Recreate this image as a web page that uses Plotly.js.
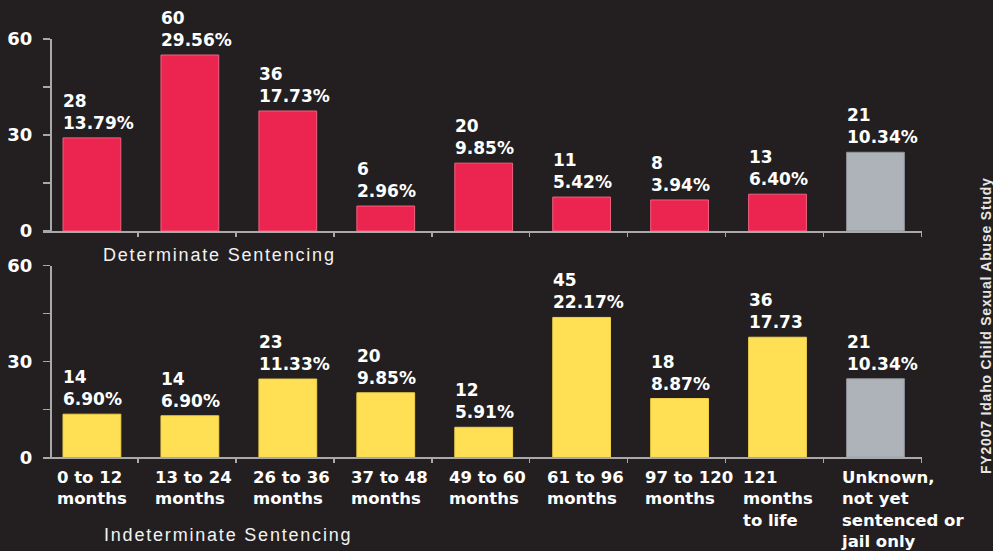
<!DOCTYPE html>
<html>
<head>
<meta charset="utf-8">
<script src="https://cdn.plot.ly/plotly-3.0.1.min.js"></script>
<style>
  html, body { margin: 0; padding: 0; background: #231F20; }
  #chart { width: 993px; height: 551px; }
  text[data-unformatted*="Sentencing"] { letter-spacing: 1.8px; }
  text[data-unformatted^="FY2007"] { letter-spacing: 0.8px; }
</style>
</head>
<body>
<div id="chart"></div>
<script>
// ---- data ----
const categories = ["0 to 12 months", "13 to 24 months", "26 to 36 months", "37 to 48 months",
  "49 to 60 months", "61 to 96 months", "97 to 120 months", "121 months to life",
  "Unknown, not yet sentenced or jail only"];
const categoryLabels = ["0 to 12<br>months", "13 to 24<br>months", "26 to 36<br>months", "37 to 48<br>months",
  "49 to 60<br>months", "61 to 96<br>months", "97 to 120<br>months", "121<br>months<br>to life",
  "Unknown,<br>not yet<br>sentenced or<br>jail only"];

// Determinate sentencing
const detCounts = [28, 60, 36, 6, 20, 11, 8, 13, 21];
const detPercents = ["13.79%", "29.56%", "17.73%", "2.96%", "9.85%", "5.42%", "3.94%", "6.40%", "10.34%"];
const detBarHeights = [29.1, 55, 37.5, 7.8, 21.2, 10.6, 9.7, 11.5, 24.6];   // heights as drawn

// Indeterminate sentencing
const indCounts = [14, 14, 23, 20, 12, 45, 18, 36, 21];
const indPercents = ["6.90%", "6.90%", "11.33%", "9.85%", "5.91%", "22.17%", "8.87%", "17.73", "10.34%"];
const indBarHeights = [13.5, 13.0, 24.5, 20.2, 9.4, 43.8, 18.4, 37.6, 24.6]; // heights as drawn

const yTickVals = [0, 30, 60];
const yMinorVals = [15, 45];
const yGridVals = [30];

const panelTitles = ["Determinate Sentencing", "Indeterminate Sentencing"];
const sideNote = "FY2007 Idaho Child Sexual Abuse Study";

// ---- style ----
const BG = "#231F20";
const RED = "#EC2550";
const YELLOW = "#FFE055";
const GREY = "#AEB3BA";
const AXIS = "#A9A9A9";
const WHITE = "#FFFFFF";
const LABEL_FONT = "DejaVu Sans, Verdana, sans-serif";

const lastIdx = categories.length - 1;
const colorsFor = base => categories.map((c, i) => i === lastIdx ? GREY : base);
const edgeFor = base => categories.map((c, i) => i === lastIdx ? "#8E939A" : base);

const xRange = [-0.4694, 8.505];
const boundaries = categories.map((c, i) => i + 0.5);

const traces = [
  {
    type: "bar", x: categories, y: detBarHeights, xaxis: "x", yaxis: "y",
    width: 0.59, offset: -0.265,
    marker: { color: colorsFor(RED), line: { color: edgeFor("#F2607F"), width: 1 } },
    hoverinfo: "skip", showlegend: false
  },
  {
    type: "bar", x: categories, y: indBarHeights, xaxis: "x2", yaxis: "y2",
    width: 0.59, offset: -0.265,
    marker: { color: colorsFor(YELLOW), line: { color: edgeFor("#F2D24A"), width: 1 } },
    hoverinfo: "skip", showlegend: false
  }
];

function mainX(anchor) {
  return {
    domain: [0, 1], anchor: anchor, type: "category", range: xRange,
    showline: true, linecolor: AXIS, linewidth: 1.5,
    ticks: "outside", ticklen: 4, tickwidth: 1.5, tickcolor: AXIS, tickson: "boundaries",
    showticklabels: false, showgrid: false, zeroline: false, fixedrange: true
  };
}
function overX(over, anchor) {
  return {
    overlaying: over, anchor: anchor, type: "linear", range: xRange,
    tickmode: "array", tickvals: boundaries,
    ticks: "inside", ticklen: 7, tickwidth: 1.5, tickcolor: AXIS,
    showline: false, showticklabels: false, showgrid: false, zeroline: false, fixedrange: true
  };
}
const yPos = 7 / 879;
function mainY(domain) {
  return {
    domain: domain, anchor: "free", position: yPos, range: [0, 60],
    tickmode: "array", tickvals: yTickVals,
    ticks: "outside", ticklen: 7, tickwidth: 1.5, tickcolor: AXIS,
    minor: { tickmode: "array", tickvals: yMinorVals, ticks: "outside", ticklen: 7, tickwidth: 1.5, tickcolor: AXIS, showgrid: false },
    showline: true, linecolor: AXIS, linewidth: 1.5,
    showgrid: false, zeroline: false, fixedrange: true,
    tickfont: { family: LABEL_FONT, size: 18, color: WHITE, weight: "bold" },
    ticklabelstandoff: 7
  };
}
function overY(over) {
  return {
    overlaying: over, anchor: "free", position: yPos, range: [0, 60],
    tickmode: "array", tickvals: yGridVals,
    ticks: "inside", ticklen: 7, tickwidth: 1.5, tickcolor: AXIS,
    minor: { tickmode: "array", tickvals: [0, 15, 45, 60], ticks: "inside", ticklen: 7, tickwidth: 1.5, tickcolor: AXIS, showgrid: false },
    showgrid: true, gridcolor: AXIS, gridwidth: 1.5,
    showline: false, showticklabels: false, zeroline: false, fixedrange: true
  };
}

const annotations = [];
function barLabels(counts, pcts, heights, xref, yref) {
  categories.forEach((c, i) => {
    annotations.push({
      x: c, y: heights[i], xref: xref, yref: yref,
      xanchor: "left", yanchor: "bottom", xshift: -28, yshift: 3,
      align: "left", showarrow: false,
      text: counts[i] + "<br>" + pcts[i],
      font: { family: LABEL_FONT, size: 17, color: WHITE, weight: "bold" }
    });
  });
}
barLabels(detCounts, detPercents, detBarHeights, "x", "y");
barLabels(indCounts, indPercents, indBarHeights, "x2", "y2");

categories.forEach((c, i) => {
  annotations.push({
    x: c, y: 0, xref: "x2", yref: "y2",
    xanchor: "left", yanchor: "top", xshift: -34, yshift: -9,
    align: "left", showarrow: false,
    text: categoryLabels[i],
    font: { family: LABEL_FONT, size: 16.5, color: WHITE, weight: "bold" }
  });
});

annotations.push({
  x: (100.7 - 43) / 879, y: 1 - 255 / 551, xref: "paper", yref: "paper",
  xanchor: "left", yanchor: "middle", align: "left", showarrow: false,
  text: panelTitles[0],
  font: { family: "Liberation Sans, Arial, sans-serif", size: 18, color: "#F2F2F2" }
});
annotations.push({
  x: (101.7 - 43) / 879, y: 1 - 535 / 551, xref: "paper", yref: "paper",
  xanchor: "left", yanchor: "middle", align: "left", showarrow: false,
  text: panelTitles[1],
  font: { family: "Liberation Sans, Arial, sans-serif", size: 18, color: "#F2F2F2" }
});
annotations.push({
  x: (985.5 - 43) / 879, y: 1 - 325.5 / 551, xref: "paper", yref: "paper",
  xanchor: "center", yanchor: "middle", align: "center", showarrow: false, textangle: -90,
  text: sideNote,
  font: { family: "Liberation Sans, Arial, sans-serif", size: 14, color: "#E6E6E6", weight: "bold" }
});

const layout = {
  width: 993, height: 551,
  margin: { l: 43, r: 71, t: 0, b: 0, pad: 0 },
  paper_bgcolor: BG, plot_bgcolor: BG,
  showlegend: false,
  bargap: 0.4,
  xaxis: mainX("y"),
  xaxis3: overX("x", "y"),
  yaxis: mainY([1 - 231 / 551, 1 - 39 / 551]),
  yaxis3: overY("y"),
  xaxis2: mainX("y2"),
  xaxis4: overX("x2", "y2"),
  yaxis2: mainY([1 - 457.3 / 551, 1 - 265.7 / 551]),
  yaxis4: overY("y2"),
  annotations: annotations
};

Plotly.newPlot("chart", traces, layout, { displayModeBar: false, staticPlot: true });
</script>
</body>
</html>
